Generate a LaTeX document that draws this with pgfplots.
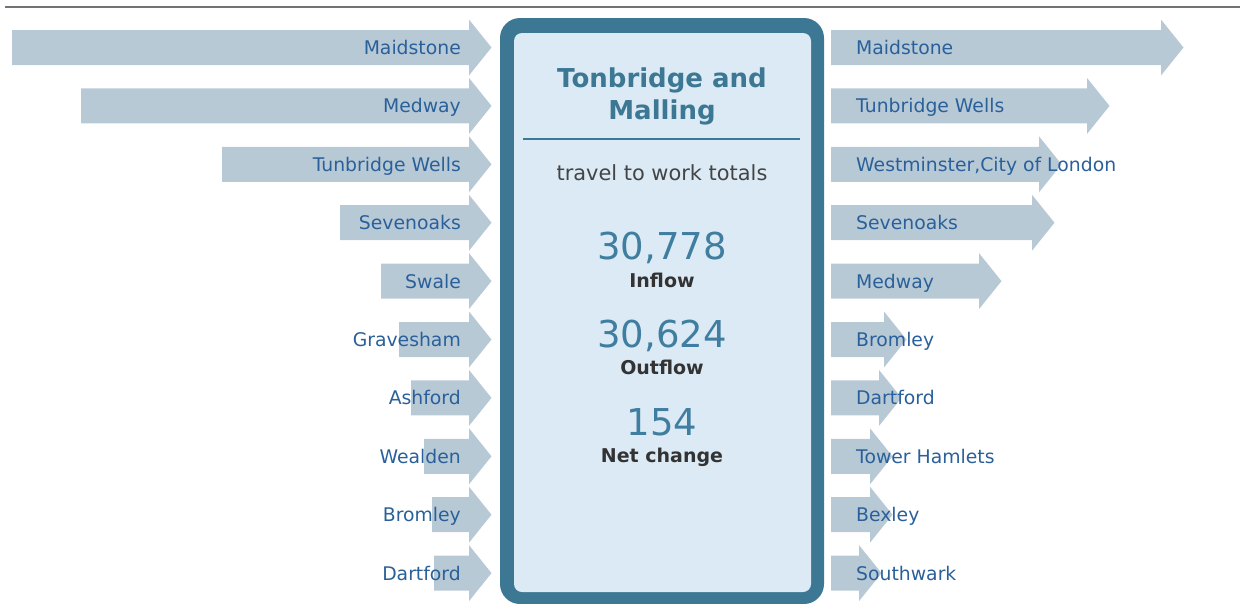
\documentclass[border=0pt]{standalone}
\usepackage{pgfplots}
\pgfplotsset{compat=1.18}
\usepackage{pgfplotstable}
\usepackage{fontspec}
\setmainfont{DejaVu Sans}
\definecolor{arrowc}{HTML}{B8C9D6}
\definecolor{boxborder}{HTML}{3C7793}
\definecolor{boxfill}{HTML}{DBEAF5}
\definecolor{labelc}{HTML}{2A609A}
\definecolor{numc}{HTML}{3F7EA0}
\definecolor{darktext}{HTML}{333333}
\definecolor{graytext}{HTML}{444444}

\pgfdeclareplotmark{rhead}{%
  \pgfpathmoveto{\pgfqpoint{0pt}{28pt}}%
  \pgfpathlineto{\pgfqpoint{22.5pt}{0pt}}%
  \pgfpathlineto{\pgfqpoint{0pt}{-28pt}}%
  \pgfpathclose
  \pgfusepathqfill}

% inflow: length of arrow body (px)
\pgfplotstableread{
r name len
0 Maidstone 457
1 Medway 388
2 {Tunbridge Wells} 247
3 Sevenoaks 129
4 Swale 88
5 Gravesham 70
6 Ashford 58
7 Wealden 45
8 Bromley 37
9 Dartford 35
}\inflow

% outflow: length of arrow body (px)
\pgfplotstableread{
r name len
0 Maidstone 330
1 {Tunbridge Wells} 256
2 {Westminster,City of London} 208
3 Sevenoaks 201
4 Medway 148
5 Bromley 53
6 Dartford 48
7 {Tower Hamlets} 39
8 Bexley 39
9 Southwark 28
}\outflow

\pgfplotsset{arrowaxis/.style={
  scale only axis, height=603pt,
  ymin=-0.8134, ymax=9.512, y dir=reverse,
  axis line style={draw=none}, tick style={draw=none},
  major tick length=0pt,
  axis on top,
  xtick=\empty, ytick={0,...,9},
  clip=false,
  yticklabel style={font=\fontsize{18.8}{22}\selectfont, text=labelc, inner sep=0pt},
}}

\begin{document}
\begin{tikzpicture}
\useasboundingbox (0,0) rectangle (1240pt,-603pt);
\begin{scope}[x=1pt,y=-1pt]
\draw[color=black!55, line width=1.5pt] (5,7) -- (1240,7);
\fill[boxborder, rounded corners=20pt] (500,18) rectangle (824,604);
\fill[boxfill, rounded corners=8pt] (514,33) rectangle (811,592);
\draw[boxborder, line width=2.8pt] (523,139) -- (800,139);
\node[anchor=base, inner sep=0pt, font=\bfseries\fontsize{26}{30}\selectfont, text=boxborder] at (662,87) {Tonbridge and};
\node[anchor=base, inner sep=0pt, font=\bfseries\fontsize{26}{30}\selectfont, text=boxborder] at (662,119) {Malling};
\node[anchor=base, inner sep=0pt, font=\fontsize{20.9}{24}\selectfont, text=graytext] at (662,180) {travel to work totals};
\node[anchor=base, inner sep=0pt, font=\fontsize{37}{40}\selectfont, text=numc] at (662,259) {30,778};
\node[anchor=base, inner sep=0pt, font=\bfseries\fontsize{19}{22}\selectfont, text=darktext] at (662,287) {Inflow};
\node[anchor=base, inner sep=0pt, font=\fontsize{37}{40}\selectfont, text=numc] at (662,347) {30,624};
\node[anchor=base, inner sep=0pt, font=\bfseries\fontsize{19}{22}\selectfont, text=darktext] at (662,374) {Outflow};
\node[anchor=base, inner sep=0pt, font=\fontsize{37}{40}\selectfont, text=numc] at (662,435) {154};
\node[anchor=base, inner sep=0pt, font=\bfseries\fontsize{19}{22}\selectfont, text=darktext] at (662,462) {Net change};
\end{scope}

% inflow arrows (left)
\begin{axis}[arrowaxis, at={(234.5pt,-301.5pt)}, anchor=center,
  width=469pt, xmin=-469, xmax=0,
  yticklabels from table={\inflow}{name},
  yticklabel style={anchor=base east, xshift=461pt, yshift=-7pt}]
\addplot[xbar, bar width=35pt, fill=arrowc, draw=none] table[x expr=-\thisrow{len}, y=r]{\inflow};
\addplot[only marks, mark=rhead, color=arrowc] table[x expr=0, y=r]{\inflow};
\end{axis}

% outflow arrows (right)
\begin{axis}[arrowaxis, at={(1035.5pt,-301.5pt)}, anchor=center,
  width=409pt, xmin=0, xmax=409, yticklabels=\empty]
\addplot[xbar, bar width=35pt, fill=arrowc, draw=none] table[x=len, y=r]{\outflow};
\addplot[only marks, mark=rhead, color=arrowc] table[x=len, y=r]{\outflow};
\end{axis}
% outflow labels, drawn over the arrows
\begin{axis}[arrowaxis, at={(1035.5pt,-301.5pt)}, anchor=center,
  width=409pt, xmin=0, xmax=409,
  yticklabels from table={\outflow}{name},
  yticklabel style={anchor=base west, xshift=25pt, yshift=-7pt}]
\end{axis}
\end{tikzpicture}
\end{document}
